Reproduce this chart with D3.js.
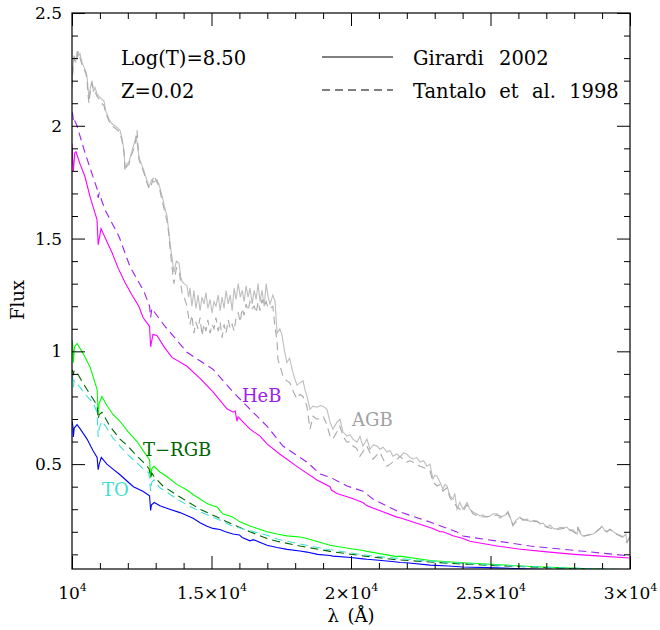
<!DOCTYPE html>
<html><head><meta charset="utf-8">
<script src="https://cdn.jsdelivr.net/npm/d3@7"></script>
<style>body{margin:0;background:#fff} text{font-family:"DejaVu Serif",serif}</style>
</head><body><svg id="c" width="660" height="630"></svg>
<script>
// ---- tick data ----
const xTickValues=[10000,15000,20000,25000,30000];
const xTickMantissa=["","1.5×","2×","2.5×","3×"];
const xMinorValues=[11000,12000,13000,14000,16000,17000,18000,19000,21000,22000,23000,24000,26000,27000,28000,29000];
const yTickValues=[0.5,1,1.5,2,2.5];
const yTickLabels=["0.5","1","1.5","2","2.5"];
const yMinorValues=[0.1,0.2,0.3,0.4,0.6,0.7,0.8,0.9,1.1,1.2,1.3,1.4,1.6,1.7,1.8,1.9,2.1,2.2,2.3,2.4];

// ---- series: [wavelength (Å), flux] ----
const toSolid=[[10000,0.69],[10030,0.67],[10049,0.62],[10080,0.66],[10180,0.675],[10300,0.655],[10540,0.611],[10750,0.56],[10900,0.53],[10938,0.475],[10975,0.50],[11050,0.53],[11250,0.50],[11470,0.478],[11700,0.455],[11970,0.425],[12200,0.40],[12540,0.38],[12780,0.36],[12818,0.295],[12850,0.32],[12950,0.33],[13150,0.315],[13500,0.30],[13870,0.285],[14340,0.26],[14590,0.24],[14840,0.225],[15050,0.215],[15300,0.21],[15500,0.20],[15770,0.19],[16000,0.186],[16100,0.175],[16380,0.16],[16500,0.165],[16990,0.14],[17350,0.13],[17710,0.122],[18170,0.115],[18420,0.11],[18800,0.10],[19250,0.095],[19350,0.092],[20000,0.086],[20430,0.08],[20570,0.078],[21000,0.074],[21650,0.066],[21760,0.064],[22000,0.063],[22830,0.052],[23500,0.048],[24010,0.044],[25230,0.040],[26400,0.035],[27600,0.030],[28800,0.026],[30000,0.022]];
const toDashed=[[10000,0.90],[10030,0.88],[10049,0.84],[10080,0.87],[10290,0.84],[10540,0.80],[10750,0.774],[10896,0.73],[10938,0.62],[10975,0.66],[11075,0.69],[11250,0.66],[11470,0.615],[11720,0.58],[11970,0.545],[12330,0.505],[12545,0.48],[12760,0.46],[12818,0.38],[12860,0.42],[12940,0.43],[13150,0.395],[13400,0.375],[13760,0.345],[14120,0.32],[14590,0.29],[14840,0.275],[15200,0.257],[15500,0.24],[15660,0.23],[15770,0.225],[16380,0.204],[16990,0.185],[17350,0.168],[18170,0.146],[19250,0.12],[20430,0.098],[21650,0.082],[22830,0.07],[24010,0.06],[25230,0.052],[26400,0.046],[27600,0.04],[28800,0.036],[30000,0.032]];
const trgbSolid=[[10000,1.05],[10030,1.02],[10049,0.95],[10090,1.02],[10180,1.035],[10400,0.99],[10650,0.93],[10900,0.83],[10938,0.72],[10975,0.77],[11075,0.80],[11250,0.76],[11470,0.72],[11720,0.69],[12000,0.645],[12330,0.60],[12550,0.56],[12780,0.52],[12818,0.44],[12860,0.48],[12940,0.49],[13150,0.465],[13400,0.445],[13760,0.41],[14120,0.385],[14340,0.365],[14590,0.345],[14840,0.325],[15050,0.315],[15200,0.31],[15400,0.28],[15660,0.27],[15770,0.265],[16000,0.245],[16380,0.226],[16990,0.20],[17350,0.19],[17700,0.182],[18170,0.177],[18420,0.17],[19250,0.14],[20000,0.125],[20430,0.117],[20570,0.113],[21650,0.09],[21760,0.092],[22830,0.073],[24010,0.063],[25230,0.055],[26400,0.046],[27600,0.04],[28800,0.035],[30000,0.03]];
const trgbDashed=[[10000,0.92],[10049,0.90],[10080,0.915],[10180,0.905],[10390,0.86],[10540,0.83],[10750,0.79],[10900,0.76],[10938,0.70],[10975,0.72],[11075,0.73],[11360,0.668],[11720,0.611],[12000,0.58],[12330,0.535],[12545,0.51],[12760,0.48],[12818,0.44],[12860,0.46],[12940,0.445],[13260,0.403],[13870,0.354],[14590,0.30],[15200,0.265],[15770,0.232],[16380,0.20],[16990,0.17],[17350,0.158],[18170,0.137],[19250,0.113],[20430,0.093],[21650,0.076],[22830,0.066],[24010,0.057],[25230,0.05],[26400,0.044],[27600,0.038],[28800,0.034],[30000,0.03]];
const hebSolid=[[10000,1.92],[10025,1.85],[10049,1.80],[10100,1.88],[10143,1.885],[10290,1.83],[10466,1.774],[10645,1.686],[10896,1.584],[10938,1.473],[11040,1.544],[11200,1.50],[11433,1.438],[11650,1.37],[11900,1.305],[12150,1.25],[12400,1.199],[12545,1.15],[12780,1.111],[12818,1.02],[12900,1.075],[13046,1.07],[13300,1.02],[13584,0.973],[14122,0.934],[14588,0.88],[15054,0.82],[15555,0.745],[15770,0.73],[15850,0.735],[15913,0.69],[15950,0.71],[16380,0.655],[16740,0.624],[16989,0.59],[17455,0.544],[18172,0.48],[18781,0.43],[19247,0.40],[19300,0.385],[19498,0.37],[20000,0.35],[20430,0.33],[20573,0.315],[21000,0.295],[21648,0.265],[21756,0.262],[22300,0.24],[22938,0.215],[23190,0.20],[23300,0.20],[23655,0.182],[24014,0.17],[24265,0.158],[25232,0.137],[26000,0.124],[27024,0.111],[28000,0.10],[28816,0.093],[30000,0.084]];
const hebDashed=[[10000,2.06],[10030,2.05],[10049,2.02],[10072,2.03],[10179,2.00],[10466,1.88],[10824,1.748],[10900,1.72],[10938,1.68],[10975,1.70],[11183,1.628],[11685,1.509],[12079,1.376],[12580,1.265],[12780,1.20],[12818,1.15],[12860,1.19],[13333,1.111],[14122,0.996],[15054,0.92],[15770,0.82],[16272,0.757],[16989,0.668],[17562,0.58],[18422,0.509],[18888,0.456],[19247,0.442],[19856,0.403],[20430,0.38],[20788,0.345],[21648,0.292],[21756,0.288],[22831,0.243],[23798,0.199],[24014,0.181],[25232,0.159],[26415,0.137],[28207,0.115],[30000,0.093]];
const agbSolid=[[10000,2.20],[10036,2.27],[10072,2.30],[10130,2.28],[10179,2.33],[10230,2.31],[10287,2.32],[10360,2.28],[10430,2.26],[10500,2.24],[10538,2.22],[10580,2.16],[10609,2.12],[10660,2.17],[10717,2.20],[10770,2.15],[10824,2.17],[10900,2.14],[10968,2.13],[11050,2.12],[11147,2.11],[11200,2.07],[11326,2.03],[11420,2.01],[11541,2.00],[11640,1.99],[11720,1.98],[11800,1.94],[11864,1.89],[11900,1.81],[11960,1.83],[12043,1.84],[12130,1.88],[12222,1.92],[12290,1.95],[12330,1.93],[12401,1.86],[12490,1.83],[12580,1.80],[12680,1.76],[12760,1.73],[12850,1.76],[12939,1.75],[13046,1.76],[13118,1.74],[13226,1.69],[13320,1.64],[13405,1.60],[13470,1.53],[13512,1.48],[13580,1.42],[13656,1.35],[13740,1.40],[13835,1.39],[13900,1.33],[13942,1.31],[14020,1.30],[14122,1.29],[14180,1.24],[14230,1.28],[14300,1.20],[14370,1.27],[14440,1.19],[14520,1.25],[14590,1.18],[14660,1.24],[14730,1.21],[14800,1.26],[14870,1.19],[14950,1.23],[15020,1.17],[15090,1.22],[15160,1.20],[15240,1.25],[15310,1.18],[15380,1.24],[15450,1.19],[15520,1.27],[15600,1.21],[15670,1.25],[15740,1.18],[15810,1.28],[15880,1.23],[15960,1.30],[16030,1.24],[16100,1.27],[16170,1.22],[16240,1.29],[16310,1.24],[16380,1.28],[16460,1.21],[16530,1.27],[16600,1.23],[16670,1.30],[16740,1.22],[16810,1.27],[16890,1.20],[16960,1.30],[17030,1.24],[17100,1.21],[17200,1.25],[17280,1.22],[17350,1.08],[17450,1.10],[17530,1.07],[17620,1.00],[17700,0.95],[17800,0.97],[17890,0.92],[17980,0.88],[18064,0.85],[18170,0.86],[18280,0.87],[18350,0.83],[18422,0.80],[18530,0.743],[18637,0.757],[18781,0.752],[18900,0.76],[18996,0.757],[19139,0.743],[19247,0.686],[19354,0.655],[19498,0.686],[19605,0.699],[19713,0.642],[19856,0.624],[19964,0.63],[20071,0.611],[20214,0.597],[20322,0.624],[20430,0.58],[20573,0.611],[20680,0.566],[20800,0.585],[20932,0.58],[21039,0.566],[21150,0.575],[21290,0.553],[21400,0.56],[21505,0.535],[21650,0.545],[21756,0.531],[21880,0.55],[22006,0.544],[22110,0.53],[22221,0.522],[22350,0.53],[22472,0.509],[22600,0.515],[22723,0.491],[22831,0.50],[22938,0.434],[23000,0.45],[23082,0.447],[23189,0.42],[23297,0.389],[23370,0.41],[23440,0.403],[23548,0.36],[23655,0.345],[23720,0.37],[23798,0.30],[23900,0.33],[24014,0.30],[24157,0.33],[24260,0.30],[24372,0.288],[24500,0.28],[24623,0.27],[24731,0.275],[24850,0.265],[24981,0.27],[25100,0.28],[25232,0.28],[25340,0.26],[25447,0.27],[25540,0.275],[25626,0.29],[25720,0.26],[25806,0.226],[25900,0.25],[26057,0.265],[26164,0.25],[26307,0.257],[26415,0.245],[26550,0.25],[26666,0.248],[26780,0.235],[26881,0.238],[27024,0.221],[27132,0.23],[27250,0.215],[27382,0.212],[27500,0.22],[27597,0.218],[27741,0.221],[27848,0.205],[27950,0.21],[28099,0.19],[28135,0.221],[28200,0.195],[28314,0.181],[28450,0.185],[28560,0.188],[28672,0.19],[28800,0.20],[28900,0.21],[28995,0.226],[29090,0.205],[29174,0.199],[29282,0.212],[29400,0.20],[29533,0.19],[29650,0.185],[29748,0.177],[29850,0.19],[29892,0.155],[29950,0.165],[30000,0.181]];
const agbDashed=[[10000,2.17],[10036,2.25],[10072,2.31],[10130,2.29],[10179,2.30],[10230,2.33],[10287,2.30],[10360,2.27],[10430,2.25],[10500,2.23],[10538,2.20],[10580,2.13],[10609,2.10],[10660,2.16],[10717,2.19],[10770,2.16],[10824,2.15],[10900,2.13],[10968,2.12],[11050,2.10],[11147,2.09],[11200,2.06],[11326,2.02],[11420,2.00],[11541,1.99],[11640,1.98],[11720,1.97],[11800,1.93],[11864,1.88],[11900,1.80],[11960,1.82],[12043,1.83],[12130,1.87],[12222,1.90],[12290,1.94],[12330,1.98],[12401,1.85],[12490,1.82],[12580,1.79],[12680,1.75],[12760,1.72],[12850,1.74],[12939,1.78],[13046,1.75],[13118,1.73],[13226,1.67],[13320,1.62],[13405,1.58],[13470,1.52],[13512,1.46],[13580,1.38],[13656,1.30],[13740,1.37],[13835,1.36],[13900,1.30],[13942,1.26],[14020,1.24],[14122,1.20],[14180,1.15],[14229,1.12],[14300,1.16],[14370,1.08],[14440,1.13],[14520,1.10],[14590,1.15],[14660,1.07],[14730,1.12],[14800,1.09],[14870,1.14],[14950,1.08],[15020,1.12],[15090,1.10],[15160,1.15],[15240,1.09],[15310,1.13],[15380,1.06],[15450,1.12],[15520,1.08],[15600,1.14],[15670,1.10],[15740,1.12],[15810,1.09],[15880,1.15],[15960,1.17],[16030,1.13],[16100,1.19],[16170,1.16],[16240,1.21],[16310,1.18],[16380,1.22],[16460,1.19],[16530,1.20],[16600,1.17],[16670,1.22],[16740,1.18],[16810,1.23],[16890,1.20],[16960,1.22],[17030,1.19],[17100,1.19],[17200,1.20],[17280,1.10],[17350,1.05],[17380,0.965],[17470,0.93],[17560,0.89],[17690,0.87],[17810,0.86],[17940,0.82],[18060,0.79],[18170,0.81],[18280,0.80],[18420,0.757],[18530,0.655],[18640,0.712],[18760,0.70],[18890,0.70],[19000,0.712],[19120,0.68],[19250,0.624],[19350,0.611],[19480,0.64],[19600,0.668],[19730,0.62],[19860,0.597],[19960,0.60],[20070,0.58],[20200,0.57],[20320,0.535],[20450,0.56],[20570,0.58],[20680,0.55],[20790,0.522],[20920,0.54],[21040,0.553],[21160,0.52],[21290,0.491],[21400,0.50],[21500,0.509],[21640,0.52],[21760,0.535],[21880,0.52],[22000,0.509],[22110,0.515],[22220,0.509],[22350,0.50],[22470,0.491],[22600,0.485],[22720,0.478],[22830,0.47],[22940,0.42],[23082,0.403],[23189,0.41],[23297,0.38],[23440,0.395],[23548,0.35],[23655,0.335],[23798,0.31],[24014,0.29],[24157,0.32],[24372,0.28],[24623,0.265],[24981,0.268],[25232,0.275],[25447,0.265],[25626,0.285],[25806,0.23],[26057,0.26],[26307,0.25],[26666,0.245],[27024,0.22],[27382,0.21],[27741,0.218],[28099,0.19],[28135,0.218],[28314,0.18],[28672,0.19],[28995,0.222],[29174,0.20],[29282,0.21],[29533,0.188],[29748,0.175],[29892,0.152],[30000,0.178]];

const seriesList=[
  {data:agbSolid,color:"#bebebe",dash:null},
  {data:agbDashed,color:"#a9a9a9",dash:"8,5"},
  {data:hebSolid,color:"#ff00ff",dash:null},
  {data:hebDashed,color:"#a020f0",dash:"8,5"},
  {data:trgbSolid,color:"#00ff00",dash:null},
  {data:trgbDashed,color:"#006400",dash:"8,5"},
  {data:toDashed,color:"#40e0d0",dash:"8,5"},
  {data:toSolid,color:"#0000ff",dash:null}
];
const curveLabels=[
  {text:"HeB",x:16090,y:0.774,color:"#a020f0"},
  {text:"AGB",x:20040,y:0.668,color:"#a0a0a0"},
  {text:"T−RGB",x:12545,y:0.535,color:"#006400"},
  {text:"TO",x:11075,y:0.358,color:"#40e0d0"}
];

const L=72,R=630,T=13,B=569;
const svg=d3.select("#c");
const x=d3.scaleLinear().domain([10000,30000]).range([L,R]);
const y=d3.scaleLinear().domain([0.035,2.5]).range([B,T]);

svg.append("defs").append("clipPath").attr("id","clip").append("rect")
  .attr("x",L).attr("y",T).attr("width",R-L).attr("height",B-T);

const line=d3.line().x(d=>x(d[0])).y(d=>y(d[1]));
const gl=svg.append("g").attr("clip-path","url(#clip)");
seriesList.forEach(s=>{
  gl.append("path").datum(s.data).attr("d",line).attr("fill","none")
    .attr("stroke",s.color).attr("stroke-width",1.1)
    .attr("stroke-dasharray",s.dash);
});

// axes
function styleAxis(g){g.select(".domain").remove();g.selectAll(".tick line").attr("stroke","#000").attr("stroke-width",1);}
svg.append("g").attr("transform",`translate(0,${B})`)
  .call(d3.axisBottom(x).tickValues(xTickValues).tickSize(-13).tickPadding(16).tickFormat(()=>""))
  .call(styleAxis)
  .call(g=>g.selectAll(".tick text").each(function(d,i){
     const t=d3.select(this).attr("font-size",17).attr("fill","#000").attr("font-family","DejaVu Serif").attr("y",30).attr("dy",null);
     t.append("tspan").text(xTickMantissa[i]+"10");
     t.append("tspan").attr("font-size",11).attr("dy",-8).text("4");
  }));
svg.append("g").attr("transform",`translate(0,${B})`)
  .call(d3.axisBottom(x).tickValues(xMinorValues).tickSize(-6).tickFormat(()=>"")).call(styleAxis);
svg.append("g").attr("transform",`translate(0,${T})`)
  .call(d3.axisTop(x).tickValues(xTickValues).tickSize(-13).tickFormat(()=>"")).call(styleAxis);
svg.append("g").attr("transform",`translate(0,${T})`)
  .call(d3.axisTop(x).tickValues(xMinorValues).tickSize(-6).tickFormat(()=>"")).call(styleAxis);

svg.append("g").attr("transform",`translate(${L},0)`)
  .call(d3.axisLeft(y).tickValues(yTickValues).tickSize(-13).tickPadding(10).tickFormat((d,i)=>yTickLabels[i]))
  .call(styleAxis)
  .call(g=>g.selectAll(".tick text").attr("font-size",17).attr("fill","#000").attr("font-family","DejaVu Serif"));
svg.append("g").attr("transform",`translate(${L},0)`)
  .call(d3.axisLeft(y).tickValues(yMinorValues).tickSize(-6).tickFormat(()=>"")).call(styleAxis);
svg.append("g").attr("transform",`translate(${R},0)`)
  .call(d3.axisRight(y).tickValues(yTickValues).tickSize(-13).tickFormat(()=>"")).call(styleAxis);
svg.append("g").attr("transform",`translate(${R},0)`)
  .call(d3.axisRight(y).tickValues(yMinorValues).tickSize(-6).tickFormat(()=>"")).call(styleAxis);

svg.append("rect").attr("x",L).attr("y",T).attr("width",R-L).attr("height",B-T)
  .attr("fill","none").attr("stroke","#000").attr("stroke-width",1.2);

// axis titles
svg.append("text").attr("x",(L+R)/2).attr("y",622).attr("text-anchor","middle").attr("font-size",18).attr("word-spacing",3).text("λ (Å)");
svg.append("text").attr("transform","translate(24,300) rotate(-90)").attr("text-anchor","middle").attr("font-size",18).text("Flux");

// legend
svg.append("text").attr("x",121).attr("y",65).attr("font-size",19.5).text("Log(T)=8.50");
svg.append("text").attr("x",121).attr("y",98).attr("font-size",19.5).text("Z=0.02");
svg.append("line").attr("x1",322).attr("x2",393).attr("y1",57).attr("y2",57).attr("stroke","#000").attr("stroke-width",1);
svg.append("line").attr("x1",322).attr("x2",393).attr("y1",90).attr("y2",90).attr("stroke","#000").attr("stroke-width",1).attr("stroke-dasharray","8,5");
svg.append("text").attr("x",413).attr("y",65).attr("font-size",19.5).attr("word-spacing",9).text("Girardi 2002");
svg.append("text").attr("x",413).attr("y",98).attr("font-size",19.5).attr("word-spacing",7).text("Tantalo et al. 1998");

curveLabels.forEach(c=>{
  svg.append("text").attr("x",x(c.x)).attr("y",y(c.y)).attr("font-size",18).attr("fill",c.color).text(c.text);
});
</script></body></html>
